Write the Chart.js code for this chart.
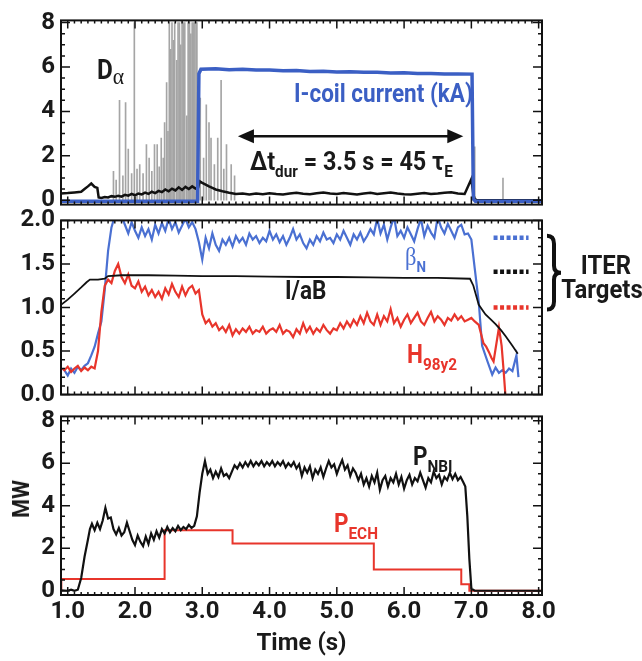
<!DOCTYPE html>
<html>
<head>
<meta charset="utf-8">
<script src="https://cdn.jsdelivr.net/npm/chart.js@4.4.1/dist/chart.umd.min.js"></script>
<style>
  body { margin: 0; background: #fff; }
  #wrap { position: relative; width: 642px; height: 661px; overflow: hidden;
          font-family: Roboto, 'Liberation Sans', sans-serif; font-weight: bold; color: #1a1a1a; }
  canvas { position: absolute; left: 0; }
  .lbl { position: absolute; white-space: nowrap; font-size: 24px; line-height: 1;
         transform-origin: 0 50%; transform: translateY(-50%) scaleX(0.9); }
  .ctr { transform-origin: 50% 50%; transform: translate(-50%, -50%) scaleX(0.92); }
  .sub { font-size: 16px; position: relative; top: 7px; }
  .gr { font-family: 'Liberation Serif', 'DejaVu Serif', serif; font-weight: normal; }
</style>
</head>
<body>
<div id="wrap">
  <canvas id="cTop" width="642" height="225" style="top:0"></canvas>
  <canvas id="cMid" width="642" height="215" style="top:200px"></canvas>
  <canvas id="cBot" width="642" height="265" style="top:396px"></canvas>

  <div class="lbl" style="left:97px;top:70px;font-size:27px">D<span class="gr" style="font-size:24px;position:relative;top:5px">α</span></div>
  <div class="lbl" style="left:294px;top:93px;font-size:25px;color:#3b5fc4">I-coil current (kA)</div>
  <div class="lbl" style="left:250px;top:161px;font-size:26px">Δt<span class="sub" style="font-size:17px">dur</span> = 3.5 s = 45 τ<span class="sub" style="font-size:17px">E</span></div>

  <div class="lbl" style="left:405px;top:256px;color:#4a70d2"><span class="gr" style="font-size:25px">β</span><span class="sub" style="font-size:15px">N</span></div>
  <div class="lbl" style="left:285px;top:290px;font-size:25px">I/aB</div>
  <div class="lbl" style="left:407px;top:354px;font-size:25px;color:#e8352b">H<span class="sub" style="font-size:17px">98y2</span></div>
  <div class="lbl ctr" style="left:606px;top:265px;font-size:26px">ITER</div>
  <div class="lbl ctr" style="left:602px;top:289px;font-size:26px">Targets</div>

  <div class="lbl" style="left:413px;top:456px;font-size:25px">P<span class="sub" style="font-size:17px">NBI</span></div>
  <div class="lbl" style="left:334px;top:523px;font-size:25px;color:#e8352b">P<span class="sub" style="font-size:17px">ECH</span></div>
  <div class="lbl" style="left:21px;top:499px;transform-origin:50% 50%;transform:translate(-50%,-50%) rotate(-90deg) scaleX(0.9)">MW</div>
</div>

<script>
// ---- data (time in s) ----
const xTicks = [1, 2, 3, 4, 5, 6, 7, 8];
const topTicks = [0, 2, 4, 6, 8];
const midTicks = [0, 0.5, 1.0, 1.5, 2.0];
const botTicks = [0, 2, 4, 6, 8];

// D-alpha ELM spikes [t, height]
const elmSpikes = [[1.68,1.3],[1.72,0.9],[1.77,4.5],[1.82,1.1],[1.86,4.4],[1.90,2.3],[1.95,1.2],[1.99,8],
  [2.03,1.4],[2.07,1.6],[2.12,1.2],[2.17,2.5],[2.21,1.9],[2.25,1.3],[2.29,2.5],[2.33,2.5],[2.36,1.5],
  [2.39,2.8],[2.42,1.9],[2.44,3.5],[2.47,5.3],[2.49,3.1],[2.51,8],[2.53,6.8],[2.55,8],[2.57,7.2],[2.59,8],
  [2.62,6.3],[2.64,8],[2.66,8],[2.68,7.0],[2.70,8],[2.72,8],[2.74,8],[2.77,3.8],[2.79,8],[2.81,8],[2.83,7.5],
  [2.85,8],[2.87,8],[2.89,8],[2.91,8],[2.92,8],[2.97,4.6],[3.02,1.9],[3.06,4.3],[3.10,3.5],[3.13,2.8],
  [3.18,1.6],[3.23,2.8],[3.28,5.4],[3.32,1.4],[3.36,2.5],[3.43,1.6],[3.48,1.1],[7.05,2.4],[7.47,1.0]];

const dAlpha = [[0.90,0.30],[1.00,0.32],[1.10,0.35],[1.20,0.38],[1.25,0.50],[1.30,0.62],[1.35,0.75],[1.40,0.60],
  [1.44,0.55],[1.46,0.12],[1.50,0.10],[1.55,0.14],[1.60,0.12],[1.65,0.18],[1.70,0.15],[1.75,0.20],[1.80,0.16],
  [1.85,0.24],[1.90,0.20],[1.95,0.28],[2.00,0.22],[2.05,0.30],[2.10,0.26],[2.15,0.34],[2.20,0.28],[2.25,0.38],
  [2.30,0.32],[2.35,0.42],[2.40,0.36],[2.45,0.48],[2.50,0.40],[2.55,0.52],[2.60,0.44],[2.65,0.58],[2.70,0.46],
  [2.75,0.60],[2.80,0.50],[2.85,0.62],[2.90,0.52],[2.94,0.58],[2.96,0.85],[3.00,0.78],[3.05,0.70],[3.10,0.62],
  [3.15,0.55],[3.20,0.48],[3.30,0.40],[3.40,0.33],[3.50,0.28],[3.60,0.30],[3.70,0.26],[3.80,0.30],[3.90,0.27],
  [4.00,0.31],[4.10,0.28],[4.20,0.26],[4.30,0.30],[4.40,0.33],[4.50,0.29],[4.60,0.27],[4.70,0.31],[4.80,0.35],
  [4.90,0.30],[5.00,0.28],[5.10,0.32],[5.20,0.29],[5.30,0.26],[5.40,0.30],[5.50,0.33],[5.60,0.28],[5.70,0.31],
  [5.80,0.34],[5.90,0.30],[6.00,0.27],[6.10,0.25],[6.20,0.29],[6.30,0.32],[6.40,0.28],[6.50,0.30],[6.60,0.33],
  [6.70,0.36],[6.80,0.30],[6.90,0.28],[7.00,0.95],[7.03,0.25],[7.05,0.05],[7.08,0.00],[8.05,0.00]];

const iCoil = [[0.90,-0.05],[2.93,-0.05],[2.95,5.70],[2.98,5.90],[3.20,5.92],[3.40,5.88],[3.60,5.90],[3.80,5.86],
  [4.00,5.87],[4.20,5.83],[4.40,5.84],[4.60,5.80],[4.80,5.81],[5.00,5.78],[5.20,5.79],[5.40,5.76],[5.60,5.76],
  [5.80,5.73],[6.00,5.74],[6.20,5.71],[6.40,5.71],[6.60,5.69],[6.80,5.69],[7.01,5.68],[7.03,0.05],[7.06,-0.05],[8.05,-0.05]];

// arrow for the flat-top duration
const durFrom = 3.53, durTo = 6.88, durLevel = 2.88;

const betaN = [[0.92,0.30],[0.95,0.28],[1.00,0.22],[1.05,0.30],[1.10,0.25],[1.15,0.32],[1.20,0.28],[1.25,0.33],
  [1.30,0.36],[1.35,0.45],[1.40,0.55],[1.45,0.70],[1.50,0.84],[1.55,1.20],[1.60,1.65],[1.65,1.92],[1.70,2.05],
  [1.75,2.08],[1.80,2.05],[1.85,1.95],[1.90,1.85],[1.95,1.98],[2.00,1.88],[2.05,1.80],[2.10,1.92],[2.15,1.82],
  [2.20,1.90],[2.25,1.78],[2.30,1.95],[2.35,1.85],[2.40,1.97],[2.45,1.88],[2.50,2.02],[2.55,1.90],[2.60,1.98],
  [2.65,1.86],[2.70,1.94],[2.75,2.02],[2.80,1.92],[2.85,1.98],[2.90,1.90],[2.95,1.75],[3.00,1.55],[3.05,1.80],
  [3.10,1.68],[3.15,1.85],[3.20,1.72],[3.25,1.65],[3.30,1.78],[3.35,1.72],[3.40,1.80],[3.45,1.70],[3.50,1.82],
  [3.55,1.75],[3.60,1.80],[3.65,1.72],[3.70,1.85],[3.75,1.78],[3.80,1.82],[3.85,1.74],[3.90,1.80],[3.95,1.76],
  [4.00,1.88],[4.05,1.78],[4.10,1.84],[4.15,1.75],[4.20,1.82],[4.25,1.72],[4.30,1.80],[4.35,1.90],[4.40,1.78],
  [4.45,1.84],[4.50,1.74],[4.55,1.68],[4.60,1.78],[4.65,1.72],[4.70,1.82],[4.75,1.76],[4.80,1.86],[4.85,1.78],
  [4.90,1.80],[4.95,1.74],[5.00,1.84],[5.05,1.78],[5.10,1.88],[5.15,1.80],[5.20,1.72],[5.25,1.84],[5.30,1.78],
  [5.35,1.86],[5.40,1.76],[5.45,1.82],[5.50,1.90],[5.55,1.84],[5.60,2.02],[5.65,1.85],[5.70,1.95],[5.75,1.78],
  [5.80,1.92],[5.85,2.04],[5.90,1.82],[5.95,1.88],[6.00,1.80],[6.05,1.92],[6.10,1.84],[6.15,1.76],[6.20,1.90],
  [6.25,2.02],[6.30,1.82],[6.35,1.94],[6.40,1.86],[6.45,1.80],[6.50,2.04],[6.55,1.92],[6.60,1.85],[6.65,1.96],
  [6.70,1.88],[6.75,1.80],[6.80,1.92],[6.85,1.95],[6.90,1.84],[6.95,1.85],[7.00,1.78],[7.05,1.45],[7.11,1.06],
  [7.16,0.56],[7.24,0.38],[7.31,0.23],[7.36,0.31],[7.41,0.25],[7.46,0.28],[7.51,0.25],[7.56,0.30],[7.61,0.27],
  [7.67,0.45],[7.70,0.20]];

const h98y2 = [[0.92,0.30],[0.95,0.28],[1.00,0.32],[1.05,0.26],[1.10,0.30],[1.15,0.33],[1.20,0.27],[1.25,0.31],
  [1.30,0.28],[1.35,0.32],[1.40,0.30],[1.45,0.50],[1.50,0.95],[1.55,1.25],[1.60,1.32],[1.65,1.28],[1.70,1.42],
  [1.75,1.50],[1.80,1.35],[1.85,1.28],[1.90,1.38],[1.95,1.25],[2.00,1.22],[2.05,1.30],[2.10,1.18],[2.15,1.24],
  [2.20,1.14],[2.25,1.20],[2.30,1.12],[2.35,1.18],[2.40,1.10],[2.45,1.22],[2.50,1.15],[2.55,1.27],[2.60,1.18],
  [2.65,1.12],[2.70,1.24],[2.75,1.14],[2.80,1.22],[2.85,1.25],[2.90,1.16],[2.95,1.20],[3.00,0.92],[3.05,0.82],
  [3.10,0.86],[3.15,0.78],[3.20,0.82],[3.25,0.74],[3.30,0.78],[3.35,0.72],[3.40,0.80],[3.45,0.68],[3.50,0.75],
  [3.55,0.70],[3.60,0.76],[3.65,0.72],[3.70,0.78],[3.75,0.70],[3.80,0.74],[3.85,0.72],[3.90,0.78],[3.95,0.70],
  [4.00,0.74],[4.05,0.76],[4.10,0.72],[4.15,0.80],[4.20,0.70],[4.25,0.74],[4.30,0.72],[4.35,0.66],[4.40,0.75],
  [4.45,0.70],[4.50,0.82],[4.55,0.72],[4.60,0.78],[4.65,0.70],[4.70,0.76],[4.75,0.72],[4.80,0.80],[4.85,0.74],
  [4.90,0.70],[4.95,0.76],[5.00,0.74],[5.05,0.82],[5.10,0.76],[5.15,0.84],[5.20,0.78],[5.25,0.86],[5.30,0.80],
  [5.35,0.90],[5.40,0.82],[5.45,0.94],[5.50,0.84],[5.55,0.80],[5.60,0.92],[5.65,0.80],[5.70,0.90],[5.75,0.84],
  [5.80,0.98],[5.85,0.82],[5.90,0.88],[5.95,0.78],[6.00,0.86],[6.05,0.92],[6.10,0.82],[6.15,0.88],[6.20,0.94],
  [6.25,0.84],[6.30,0.80],[6.35,0.88],[6.40,0.95],[6.45,0.84],[6.50,0.90],[6.55,0.86],[6.60,0.80],[6.65,0.88],
  [6.70,0.85],[6.75,0.92],[6.80,0.86],[6.85,0.90],[6.90,0.84],[6.95,0.86],[7.00,0.88],[7.05,0.84],[7.11,0.80],
  [7.18,0.59],[7.22,0.55],[7.26,0.49],[7.30,0.42],[7.33,0.38],[7.41,0.77],[7.45,0.56],[7.48,0.27],[7.51,-0.05]];

const iaB = [[0.90,1.03],[1.00,1.09],[1.10,1.16],[1.20,1.23],[1.28,1.29],[1.33,1.32],[1.45,1.32],[1.55,1.33],
  [1.60,1.36],[1.80,1.37],[2.20,1.37],[2.60,1.365],[3.00,1.36],[3.50,1.36],[4.00,1.355],[4.50,1.35],[5.00,1.35],
  [5.50,1.345],[6.00,1.34],[6.50,1.34],[6.98,1.33],[7.03,1.25],[7.11,1.03],[7.21,0.92],[7.28,0.87],[7.36,0.81],
  [7.44,0.74],[7.51,0.67],[7.61,0.56],[7.69,0.47]];

// ITER target values: beta_N, I/aB, H98y2
const iterTargets = [1.8, 1.41, 1.0];
const targetSpan = [7.33, 7.85];

const pNBI = [[0.90,0.02],[1.00,0.00],[1.05,0.05],[1.10,0.00],[1.15,0.05],[1.20,0.60],[1.25,1.60],[1.30,2.40],
  [1.33,2.90],[1.36,3.15],[1.40,2.85],[1.44,3.20],[1.48,2.90],[1.52,3.30],[1.56,3.90],[1.60,3.40],[1.64,3.45],
  [1.68,2.90],[1.72,2.65],[1.76,2.95],[1.80,2.60],[1.84,2.75],[1.88,3.20],[1.92,2.80],[1.96,2.40],[2.00,2.15],
  [2.04,2.60],[2.08,2.30],[2.12,2.10],[2.16,2.55],[2.20,2.20],[2.24,2.70],[2.28,2.40],[2.32,2.80],[2.36,2.50],
  [2.40,2.90],[2.44,2.70],[2.48,3.00],[2.52,2.75],[2.56,2.95],[2.60,2.80],[2.64,3.05],[2.68,2.85],[2.72,3.00],
  [2.76,2.90],[2.80,3.10],[2.84,2.95],[2.88,3.05],[2.92,3.50],[2.96,4.60],[3.00,5.50],[3.04,6.10],[3.08,5.50],
  [3.12,5.70],[3.16,5.30],[3.20,5.60],[3.24,5.35],[3.28,5.75],[3.32,5.40],[3.36,5.50],[3.40,5.30],[3.44,5.60],
  [3.48,5.90],[3.52,5.75],[3.56,6.00],[3.60,5.80],[3.64,6.05],[3.68,5.85],[3.72,6.10],[3.76,5.85],[3.80,6.05],
  [3.84,5.90],[3.88,6.10],[3.92,5.85],[3.96,6.05],[4.00,5.90],[4.04,6.10],[4.08,5.85],[4.12,6.05],[4.16,5.90],
  [4.20,6.10],[4.24,5.80],[4.28,6.00],[4.32,5.85],[4.36,6.05],[4.40,5.75],[4.44,5.95],[4.48,5.40],[4.52,5.80],
  [4.56,5.55],[4.60,5.85],[4.64,5.30],[4.68,5.70],[4.72,5.50],[4.76,5.80],[4.80,5.35],[4.84,5.75],[4.88,6.10],
  [4.92,5.80],[4.96,5.95],[5.00,5.50],[5.04,5.85],[5.08,6.15],[5.12,5.70],[5.16,5.90],[5.20,5.40],[5.24,5.75],
  [5.28,5.55],[5.32,5.20],[5.36,5.50],[5.40,5.00],[5.44,5.30],[5.48,4.90],[5.52,5.40],[5.56,5.10],[5.60,5.55],
  [5.64,4.75],[5.68,5.20],[5.72,5.40],[5.76,4.90],[5.80,5.30],[5.84,5.10],[5.88,5.50],[5.92,5.00],[5.96,5.35],
  [6.00,4.80],[6.04,5.20],[6.08,5.45],[6.12,5.00],[6.16,5.30],[6.20,5.15],[6.24,5.55],[6.28,5.20],[6.32,4.85],
  [6.36,5.30],[6.40,5.10],[6.44,5.60],[6.48,5.30],[6.52,5.45],[6.56,5.00],[6.60,5.35],[6.64,5.20],[6.68,5.55],
  [6.72,5.25],[6.76,5.50],[6.80,5.20],[6.84,5.35],[6.88,5.10],[6.91,4.90],[6.94,3.50],[6.97,1.50],[7.00,0.10],
  [7.05,0.00],[8.05,0.00]];

// ECH power steps [start time, level]
const pECH = [[0.90,0.00],[0.905,0.55],[2.44,2.85],[3.45,2.22],[5.55,1.00],[6.85,0.30],[6.97,0.00],[8.05,0.00]];

// ---- drawing ----
const X_MIN = 0.9, X_MAX = 8.05;
const FONT = "Roboto, 'Liberation Sans', sans-serif";
const tickFont = { family: FONT, size: 24, weight: 'bold' };
const BLUE = '#3b5fc4', BLUE2 = '#4a70d2', RED = '#e8352b', BLACK = '#111';

const pts = arr => arr.map(([x, y]) => ({ x, y }));

function line(data, color, width, extra) {
  return Object.assign({ data: pts(data), borderColor: color, borderWidth: width, pointRadius: 0,
    fill: false, tension: 0 }, extra || {});
}

// frame + inward tick marks on all four sides
const frameTicks = {
  id: 'frameTicks',
  afterDatasetsDraw(chart, args, o) {
    const { ctx, chartArea: a, scales: { x, y } } = chart;
    ctx.save();
    ctx.strokeStyle = BLACK;
    ctx.lineWidth = 1.5;
    ctx.beginPath();
    const xt = (v, len) => {
      const px = x.getPixelForValue(v);
      ctx.moveTo(px, a.bottom); ctx.lineTo(px, a.bottom - len);
      ctx.moveTo(px, a.top); ctx.lineTo(px, a.top + len);
    };
    const yt = (v, len) => {
      const py = y.getPixelForValue(v);
      ctx.moveTo(a.left, py); ctx.lineTo(a.left + len, py);
      ctx.moveTo(a.right, py); ctx.lineTo(a.right - len, py);
    };
    for (let k = Math.ceil(x.min / 0.1 - 1e-6); k * 0.1 <= x.max + 1e-6; k++) xt(k * 0.1, 3);
    xTicks.forEach(v => xt(v, 8));
    for (let k = Math.ceil(y.min / o.yMinor - 1e-6); k * o.yMinor <= y.max + 1e-6; k++) yt(k * o.yMinor, 4);
    o.yTicks.forEach(v => yt(v, 9));
    ctx.stroke();
    ctx.lineWidth = 2;
    ctx.strokeRect(a.left, a.top, a.right - a.left, a.bottom - a.top);
    ctx.restore();
  }
};

// double-headed arrow (top panel) and the ITER brace (middle panel)
const extras = {
  id: 'extras',
  afterDraw(chart, args, o) {
    const { ctx, chartArea: a, scales: { x, y } } = chart;
    ctx.save();
    ctx.strokeStyle = BLACK; ctx.fillStyle = BLACK;
    if (o.arrow) {
      const x1 = x.getPixelForValue(durFrom), x2 = x.getPixelForValue(durTo), py = y.getPixelForValue(durLevel);
      ctx.lineWidth = 2.5;
      ctx.beginPath(); ctx.moveTo(x1 + 10, py); ctx.lineTo(x2 - 10, py); ctx.stroke();
      ctx.beginPath(); ctx.moveTo(x1, py); ctx.lineTo(x1 + 16, py - 7); ctx.lineTo(x1 + 16, py + 7); ctx.closePath(); ctx.fill();
      ctx.beginPath(); ctx.moveTo(x2, py); ctx.lineTo(x2 - 16, py - 7); ctx.lineTo(x2 - 16, py + 7); ctx.closePath(); ctx.fill();
    }
    if (o.brace) {
      const x0 = a.right + 5, w = 7;
      const y1 = y.getPixelForValue(iterTargets[0]) - 2, y2 = y.getPixelForValue(iterTargets[2]) + 2;
      const ym = (y1 + y2) / 2;
      ctx.lineWidth = 4;
      ctx.beginPath();
      ctx.moveTo(x0, y1);
      ctx.quadraticCurveTo(x0 + w, y1, x0 + w, y1 + 8);
      ctx.lineTo(x0 + w, ym - 7);
      ctx.quadraticCurveTo(x0 + w, ym, x0 + 2 * w, ym);
      ctx.quadraticCurveTo(x0 + w, ym, x0 + w, ym + 7);
      ctx.lineTo(x0 + w, y2 - 8);
      ctx.quadraticCurveTo(x0 + w, y2, x0, y2);
      ctx.stroke();
    }
    ctx.restore();
  }
};

function panel(id, p) {
  return new Chart(document.getElementById(id), {
    type: 'line',
    data: { datasets: p.datasets },
    options: {
      responsive: false,
      animation: false,
      devicePixelRatio: 1,
      layout: { padding: p.padding },
      plugins: {
        legend: { display: false },
        tooltip: { enabled: false },
        frameTicks: { yTicks: p.yTicks, yMinor: p.yMinor },
        extras: { arrow: !!p.arrow, brace: !!p.brace }
      },
      scales: {
        x: {
          type: 'linear', min: X_MIN, max: X_MAX, offset: false, display: !!p.showX,
          grid: { display: false, drawTicks: false, offset: false }, border: { display: false },
          ticks: { font: tickFont, color: '#1a1a1a', padding: 3, maxRotation: 0, callback: v => v.toFixed(1) },
          afterBuildTicks: s => { s.ticks = xTicks.map(v => ({ value: v })); },
          afterFit: s => { if (p.showX) s.height = 66; },
          title: { display: !!p.showX, text: 'Time (s)', font: tickFont, color: '#1a1a1a', padding: { top: 0, bottom: 3 } }
        },
        y: {
          type: 'linear', min: p.yMin, max: p.yMax,
          grid: { display: false, drawTicks: false }, border: { display: false },
          ticks: { font: tickFont, color: '#1a1a1a', padding: 6, callback: p.yFmt },
          afterBuildTicks: s => { s.ticks = p.yTicks.map(v => ({ value: v })); },
          afterFit: s => { s.width = 61; }
        }
      }
    },
    plugins: [frameTicks, extras]
  });
}

panel('cTop', {
  padding: { left: 0, right: 100, top: 11, bottom: 20 },
  yMin: -0.2, yMax: 8.1, yTicks: topTicks, yMinor: 0.5, yFmt: v => String(v),
  arrow: true,
  datasets: [
    { type: 'bar', data: pts(elmSpikes), backgroundColor: '#a5a5a5', barThickness: 1, grouped: false, order: 3 },
    line(dAlpha, BLACK, 2.5, { order: 2 }),
    line(iCoil, BLUE, 3.5, { order: 1 })
  ]
});

panel('cMid', {
  padding: { left: 0, right: 100, top: 15, bottom: 14 },
  yMin: 0, yMax: 2.0, yTicks: midTicks, yMinor: 0.1, yFmt: v => v.toFixed(1),
  brace: true,
  datasets: [
    line(iaB, BLACK, 1.8),
    line(h98y2, RED, 2.2),
    line(betaN, BLUE2, 2.2),
    ...iterTargets.map((v, i) => line([[targetSpan[0], v], [targetSpan[1], v]], [BLUE2, BLACK, RED][i], 4.5,
      { borderDash: [4, 2.5], borderCapStyle: 'butt' }))
  ]
});

panel('cBot', {
  padding: { left: 0, right: 100, top: 10, bottom: 0 },
  yMin: -0.2, yMax: 8.2, yTicks: botTicks, yMinor: 0.5, yFmt: v => String(v),
  showX: true,
  datasets: [
    line(pECH, RED, 2, { stepped: 'before', order: 2 }),
    line(pNBI, BLACK, 2.2, { order: 1 })
  ]
});
</script>
</body>
</html>
